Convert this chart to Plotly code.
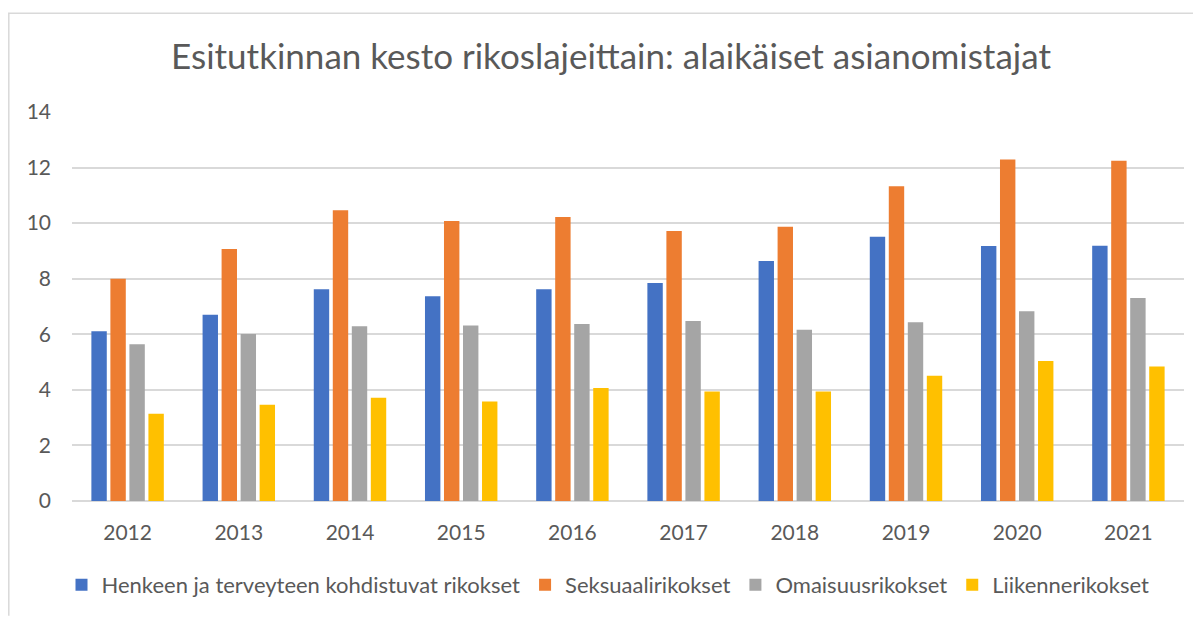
import plotly.graph_objects as go

years = ["2012", "2013", "2014", "2015", "2016", "2017", "2018", "2019", "2020", "2021"]
henkeen = [6.11, 6.70, 7.62, 7.37, 7.62, 7.85, 8.64, 9.51, 9.18, 9.19]
seksuaali = [8.00, 9.07, 10.46, 10.08, 10.22, 9.72, 9.87, 11.33, 12.29, 12.25]
omaisuus = [5.64, 6.01, 6.29, 6.32, 6.37, 6.48, 6.16, 6.43, 6.83, 7.31]
liikenne = [3.14, 3.46, 3.72, 3.58, 4.07, 3.94, 3.94, 4.51, 5.04, 4.84]

series_names = [
    "Henkeen ja terveyteen kohdistuvat rikokset",
    "Seksuaalirikokset",
    "Omaisuusrikokset",
    "Liikennerikokset",
]
series_values = [henkeen, seksuaali, omaisuus, liikenne]
colors = ["#4472C4", "#ED7D31", "#A5A5A5", "#FFC000"]

title_text = "Esitutkinnan kesto rikoslajeittain: alaikäiset asianomistajat"
font_family = "Lato, 'Open Sans', sans-serif"
text_color = "#595959"

# page body has an 8px default margin; compensate
OFF = 8
W, H = 1201 - OFF, 617 - OFF
L = 72 - OFF
R = 17
T = 112 - OFF
B = H - (502 - OFF)
pw, ph = W - L - R, H - T - B

def px_x(x):
    return (x - OFF - L) / pw

def px_y(y):
    return (H - B - (y - OFF)) / ph

fig = go.Figure()
for name, vals, col in zip(series_names, series_values, colors):
    fig.add_trace(go.Bar(x=years, y=vals, name=name, marker=dict(color=col, line=dict(width=0))))

fig.update_layout(
    width=W, height=H,
    margin=dict(l=L, r=R, t=T, b=B),
    paper_bgcolor="white", plot_bgcolor="white",
    barmode="group", bargap=0.316, bargroupgap=0.19,
    font=dict(family=font_family, color=text_color, size=21),
    title=dict(text=title_text, x=px_x(611), xref="paper", xanchor="center",
               y=1 - (57 - OFF) / H, yanchor="middle",
               font=dict(size=35, color=text_color, family=font_family)),
    xaxis=dict(showgrid=False, showline=False, ticks="", tickfont=dict(size=21, color=text_color),
               ticklabelstandoff=17),
    yaxis=dict(range=[0, 14], dtick=2, showgrid=True, gridcolor="#D9D9D9", gridwidth=1.5,
               zeroline=True, zerolinecolor="#D9D9D9", zerolinewidth=1.5,
               showline=False, ticks="", tickfont=dict(size=21, color=text_color),
               ticklabelstandoff=20),
    legend=dict(orientation="h", x=px_x(608), xanchor="center", y=px_y(585), yanchor="middle",
                font=dict(size=22, color=text_color), itemwidth=30, traceorder="normal",
                bgcolor="rgba(0,0,0,0)"),
    showlegend=True,
    shapes=[
        dict(type="line", xref="paper", yref="paper", x0=px_x(8), x1=px_x(1201), y0=px_y(13), y1=px_y(13),
             line=dict(color="#D9D9D9", width=1.5)),
        dict(type="line", xref="paper", yref="paper", x0=px_x(8.8), x1=px_x(8.8), y0=px_y(13), y1=px_y(617),
             line=dict(color="#D9D9D9", width=1.5)),
    ],
)

fig.write_html("out.html")
